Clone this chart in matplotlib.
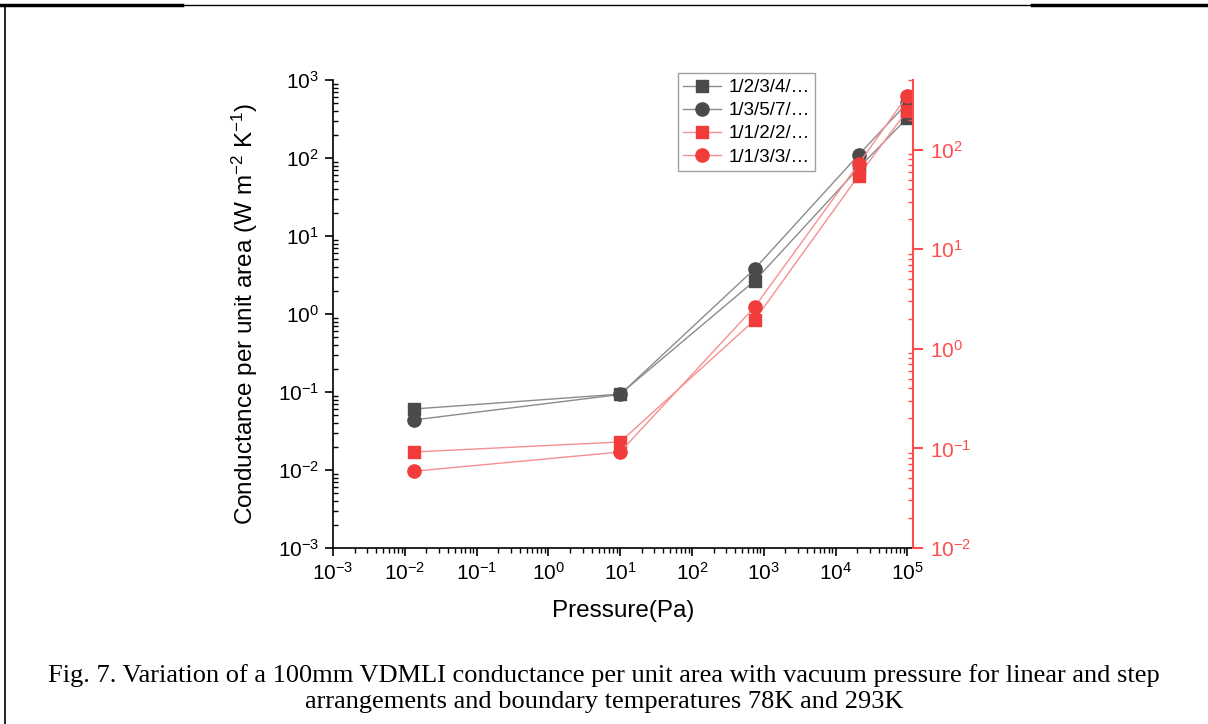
import matplotlib
matplotlib.use("Agg")
import matplotlib.pyplot as plt
from matplotlib.lines import Line2D
from matplotlib.ticker import LogLocator, NullFormatter

plt.rcParams['font.family'] = ['Liberation Sans', 'DejaVu Sans']
plt.rcParams['mathtext.fontset'] = 'custom'
plt.rcParams['mathtext.rm'] = 'Liberation Sans'
plt.rcParams['mathtext.it'] = 'Liberation Sans:italic'
plt.rcParams['mathtext.default'] = 'regular'

# pressure (Pa)
pressure = [0.0133, 10, 750, 21000, 1e5]

# left axis (black) series
lin_1234 = [0.0605, 0.094, 2.67, 74.5, 326]
lin_1357 = [0.0438, 0.093, 3.8, 110, 507]
# right axis (red) series
step_1122 = [0.092, 0.116, 1.95, 54.8, 247]
step_1133 = [0.059, 0.092, 2.64, 72, 349]

labels = ["1/2/3/4/…", "1/3/5/7/…", "1/1/2/2/…", "1/1/3/3/…"]

dark = "#4a4a4a"
dark_line = "#8c8c8c"
red = "#f23c3c"
red_line = "#f59090"
axis_red = "#ff4d4d"

fig = plt.figure(figsize=(12.08, 7.24), dpi=100)
ax = fig.add_axes([333/1208, 1 - 548/724, 580/1208, 468/724])
ax2 = ax.twinx()

h1, = ax.plot(pressure, lin_1234, marker='s', ms=8.5, color=dark_line, mfc=dark, mec=dark, lw=1, label=labels[0])
h2, = ax.plot(pressure, lin_1357, marker='o', ms=9.5, color=dark_line, mfc=dark, mec=dark, lw=1, label=labels[1])
h3, = ax2.plot(pressure, step_1122, marker='s', ms=8.5, color=red_line, mfc=red, mec=red, lw=1, label=labels[2])
h4, = ax2.plot(pressure, step_1133, marker='o', ms=9.5, color=red_line, mfc=red, mec=red, lw=1, label=labels[3])

ax.set_xscale('log')
ax.set_yscale('log')
ax2.set_yscale('log')
ax.set_xlim(1e-3, 1.2e5)
ax.set_ylim(1e-3, 1e3)
ax2.set_ylim(1e-2, 500)

for a in (ax, ax2):
    a.spines['top'].set_visible(False)
ax.spines['right'].set_visible(False)
ax2.spines['left'].set_visible(False)
ax2.spines['bottom'].set_visible(False)
ax2.spines['right'].set_color(axis_red)
ax2.spines['right'].set_linewidth(1.5)
ax.spines['left'].set_linewidth(1.2)
ax.spines['bottom'].set_linewidth(1.2)

ax.xaxis.set_major_locator(LogLocator(base=10, numticks=20))
ax.xaxis.set_minor_locator(LogLocator(base=10, subs=range(2, 10), numticks=20))
ax.xaxis.set_minor_formatter(NullFormatter())
ax.yaxis.set_major_locator(LogLocator(base=10, numticks=20))
ax.yaxis.set_minor_locator(LogLocator(base=10, subs=range(2, 10), numticks=20))
ax.yaxis.set_minor_formatter(NullFormatter())
ax2.yaxis.set_major_locator(LogLocator(base=10, numticks=20))
ax2.yaxis.set_minor_locator(LogLocator(base=10, subs=range(2, 10), numticks=20))
ax2.yaxis.set_minor_formatter(NullFormatter())

ax.tick_params(axis='x', which='major', direction='out', length=6, width=1.2, labelsize=15, pad=4)
ax.tick_params(axis='x', which='minor', direction='out', length=3.5, width=1)
ax.tick_params(axis='y', which='major', direction='out', length=6, width=1.2, labelsize=15, pad=4)
ax.tick_params(axis='y', which='minor', direction='in', length=3.5, width=1)
ax2.tick_params(axis='y', which='major', direction='out', length=7, width=1.5, labelsize=15,
                colors=axis_red, pad=5)
ax2.tick_params(axis='y', which='minor', direction='in', length=3.5, width=1, colors=axis_red)

ax.set_xlabel("Pressure(Pa)", fontsize=17.5, labelpad=12)
ax.set_ylabel("Conductance per unit area (W m$^{-2}$ K$^{-1}$)", fontsize=17.5, labelpad=13)

leg = ax2.legend(handles=[h1, h2, h3, h4], loc='upper left', bbox_to_anchor=(0.588, 1.022),
                 fontsize=13.5, frameon=True, fancybox=False, edgecolor='#8a8a8a',
                 handlelength=2.0, borderpad=0.3, labelspacing=0.32, handletextpad=0.4,
                 borderaxespad=0.2)
leg.get_frame().set_linewidth(1)

fig.text(0.5, 1 - 676/724, "Fig. 7. Variation of a 100mm VDMLI conductance per unit area with vacuum pressure for linear and step",
         ha='center', va='center', fontsize=19, family='Liberation Serif')
fig.text(0.5, 1 - 702/724, "arrangements and boundary temperatures 78K and 293K",
         ha='center', va='center', fontsize=19, family='Liberation Serif')

# page border fragments
fig.add_artist(Line2D([0, 1], [1 - 5/724, 1 - 5/724], color='black', lw=1, transform=fig.transFigure))
fig.add_artist(Line2D([0, 182/1208], [1 - 5/724, 1 - 5/724], color='black', lw=2.5, transform=fig.transFigure))
fig.add_artist(Line2D([1032/1208, 1], [1 - 5/724, 1 - 5/724], color='black', lw=2.5, transform=fig.transFigure))
fig.add_artist(Line2D([5/1208, 5/1208], [0, 1 - 5/724], color='black', lw=1.2, transform=fig.transFigure))

fig.savefig("out.png", dpi=100)
